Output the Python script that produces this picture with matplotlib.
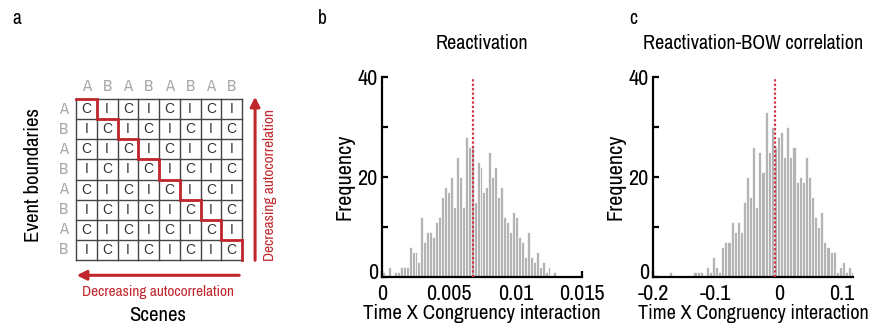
import numpy as np
import matplotlib
matplotlib.use("Agg")
import matplotlib.pyplot as plt
import matplotlib.transforms as mtransforms
from matplotlib import font_manager as fm

# ---------------- data ----------------
grid_rows = ["A", "B", "A", "B", "A", "B", "A", "B"]
grid_cols = ["A", "B", "A", "B", "A", "B", "A", "B"]

b_range = (0.0, 0.0133)
b_counts = [1, 0, 2, 0, 1, 1, 2, 2, 2, 6,
            5, 5, 3, 12, 7, 9, 9, 8, 11, 12,
            16, 18, 17, 20, 14, 24, 20, 14, 28, 26,
            26, 15, 23, 22, 17, 18, 25, 20, 22, 16,
            18, 12, 11, 9, 13, 12, 8, 7, 4, 9,
            4, 3, 5, 2, 3, 1, 2, 0, 1, 0]
b_observed = 0.00685
b_xticks = [0, 0.005, 0.01, 0.015]
b_xticklabels = ["0", "0.005", "0.01", "0.015"]

c_range = (-0.175, 0.12)
c_counts = [1, 0, 0, 0, 0, 0, 0, 0, 1, 1,
            1, 0, 2, 1, 4, 2, 1, 6, 7, 7,
            11, 9, 11, 9, 15, 20, 16, 26, 14, 25,
            21, 33, 25, 30, 26, 28, 29, 24, 30, 24,
            26, 19, 20, 19, 24, 20, 16, 12, 10, 13,
            7, 6, 5, 5, 1, 2, 3, 1, 2, 1]
c_observed = -0.006
c_xticks = [-0.2, -0.1, 0, 0.1]
c_xticklabels = ["-0.2", "-0.1", "0", "0.1"]

y_ticks = [0, 10, 20, 30, 40]
y_ticklabels = ["0", "", "20", "", "40"]

# ---------------- fonts ----------------
ttf = fm.fontManager.ttflist
narrow_names = [f.name for f in ttf if ("Narrow" in f.name or "Condensed" in f.name)]
has_dejavu_cond = any(f.name == "DejaVu Sans" and "ondensed" in f.fname for f in ttf)
scale = 1.0
if narrow_names:
    plt.rcParams["font.family"] = [sorted(narrow_names)[0], "DejaVu Sans"]
elif has_dejavu_cond:
    plt.rcParams["font.family"] = ["DejaVu Sans"]
    plt.rcParams["font.stretch"] = "condensed"
    scale = 0.9
else:
    plt.rcParams["font.family"] = ["Liberation Sans", "DejaVu Sans"]
    scale = 0.85

def fs(v):
    return v * scale

RED = "#c0272d"
GRAY_BAR = "#b4b4b4"

W, H = 869, 331
fig = plt.figure(figsize=(W / 100, H / 100), dpi=100)


def px_axes(x0, y0, x1, y1):
    return fig.add_axes([x0 / W, 1 - y1 / H, (x1 - x0) / W, (y1 - y0) / H])


# ---------------- panel a ----------------
axa = px_axes(76, 99, 242, 260)
axa.set_xlim(0, 8)
axa.set_ylim(8, 0)
axa.axis("off")
for i in range(9):
    axa.plot([i, i], [0, 8], color="#444444", lw=1.0, clip_on=False)
    axa.plot([0, 8], [i, i], color="#444444", lw=1.0, clip_on=False)
for r in range(8):
    for c in range(8):
        axa.text(c + 0.5, r + 0.5, "C" if (r + c) % 2 == 0 else "I",
                 ha="center", va="center", fontsize=10, color="#333333",
                 family=["Liberation Sans", "DejaVu Sans"], stretch="normal")
for i, lab in enumerate(grid_cols):
    axa.text(i + 0.5, -0.62, lab, ha="center", va="center", fontsize=fs(12), color="#a8a8a8")
for i, lab in enumerate(grid_rows):
    axa.text(-0.62, i + 0.5, lab, ha="center", va="center", fontsize=fs(12), color="#a8a8a8")
# staircase
sx, sy = [0], [0]
for k in range(8):
    sx += [k + 1, k + 1]
    sy += [k, k + 1]
axa.plot(sx, sy, color=RED, lw=2.0, clip_on=False, solid_joinstyle="miter")
# arrows
axa.annotate("", xy=(8.63, -0.25), xytext=(8.63, 8.15),
             arrowprops=dict(arrowstyle="-|>", color=RED, lw=2.2, mutation_scale=14),
             annotation_clip=False)
axa.annotate("", xy=(-0.1, 8.76), xytext=(8.0, 8.76),
             arrowprops=dict(arrowstyle="-|>", color=RED, lw=2.2, mutation_scale=14),
             annotation_clip=False)
axa.text(9.35, 4.25, "Decreasing autocorrelation", rotation=90, ha="center", va="center",
         fontsize=fs(11), color=RED)
axa.text(3.95, 9.6, "Decreasing autocorrelation", ha="center", va="center",
         fontsize=fs(11), color=RED)
axa.text(3.95, 10.75, "Scenes", ha="center", va="center", fontsize=fs(15), color="black")
axa.text(-2.05, 3.8, "Event boundaries", rotation=90, ha="center", va="center",
         fontsize=fs(15), color="black")

fig.text(17 / W, 1 - 18 / H, "a", ha="center", va="center", fontsize=fs(14))
fig.text(322 / W, 1 - 18 / H, "b", ha="center", va="center", fontsize=fs(14))
fig.text(633 / W, 1 - 18 / H, "c", ha="center", va="center", fontsize=fs(14))


# ---------------- histograms ----------------
def hist_panel(ax, rng, counts, observed, xlim, xticks, xticklabels, title, xlab_fs):
    n = len(counts)
    edges = np.linspace(rng[0], rng[1], n + 1)
    w = edges[1] - edges[0]
    ax.bar(edges[:-1], counts, width=w, align="edge", color=GRAY_BAR,
           edgecolor="white", linewidth=0.5, zorder=2)
    ax.plot([observed, observed], [0, 40], color="#d03040", lw=1.6,
            linestyle=(0, (1, 1)), zorder=3)
    ax.set_xlim(*xlim)
    ax.set_ylim(0, 40)
    ax.set_xticks(xticks)
    ax.set_xticklabels(xticklabels)
    ax.set_yticks(y_ticks)
    ax.set_yticklabels(y_ticklabels)
    for s in ("top", "right"):
        ax.spines[s].set_visible(False)
    for s in ("left", "bottom"):
        ax.spines[s].set_linewidth(1.6)
    ax.tick_params(direction="in", length=4, width=1.6, labelsize=fs(16), pad=3)
    ax.tick_params(axis="x", pad=5)
    # raise the "0" y label a little, as in the reference
    lab0 = ax.get_yticklabels()[0]
    lab0.set_transform(lab0.get_transform() +
                       mtransforms.ScaledTranslation(0, 4 / 72, fig.dpi_scale_trans))
    ax.set_ylabel("Frequency", fontsize=fs(16), labelpad=2)
    ax.set_xlabel("Time X Congruency interaction", fontsize=fs(xlab_fs), labelpad=0)
    ax.set_title(title, fontsize=fs(14.5), pad=20)


axb = px_axes(382, 77, 582, 277)
hist_panel(axb, b_range, b_counts, b_observed, (0, 0.015), b_xticks, b_xticklabels,
           "Reactivation", 15)

axc = px_axes(653, 77, 853, 277)
hist_panel(axc, c_range, c_counts, c_observed, (-0.2, 0.118), c_xticks, c_xticklabels,
           "Reactivation-BOW correlation", 14.6)

fig.savefig("out.png", dpi=100)
